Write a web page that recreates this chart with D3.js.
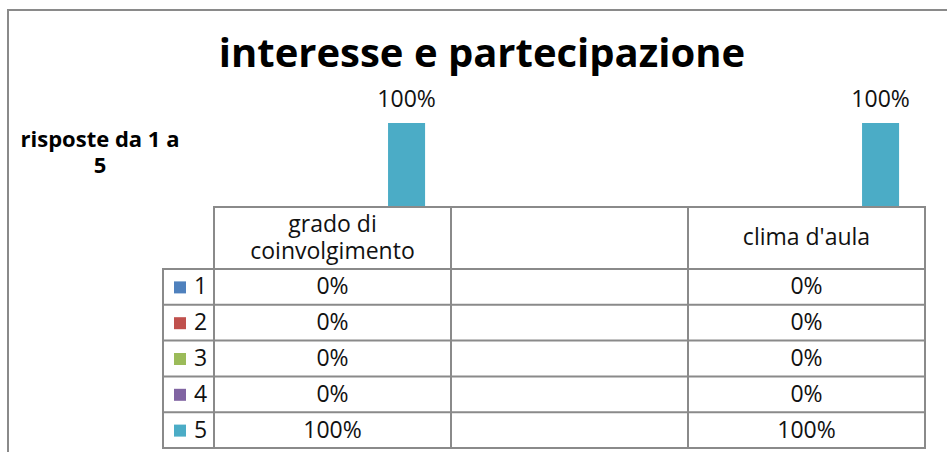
<!DOCTYPE html>
<html>
<head>
<meta charset="utf-8">
<script src="https://cdn.jsdelivr.net/npm/d3@7"></script>
<style>
  body { margin: 0; background: #fff; }
  text { font-family: "Open Sans", "Noto Sans", sans-serif; fill: #111; }
</style>
</head>
<body>
<script>
// Chart data
var categories = ["grado di coinvolgimento", "", "clima d'aula"];
var seriesNames = ["1", "2", "3", "4", "5"];
var values1 = [0, null, 0];
var values2 = [0, null, 0];
var values3 = [0, null, 0];
var values4 = [0, null, 0];
var values5 = [1, null, 1];
var seriesColors = ["#4F81BD", "#C0504D", "#9BBB59", "#8064A2", "#4BACC6"];

var allValues = [values1, values2, values3, values4, values5];

// SVG area
var svgWidth = 947;
var svgHeight = 452;

var svg = d3.select("body")
  .append("svg")
  .attr("width", svgWidth)
  .attr("height", svgHeight);

// chart border (bottom is cut off like in the picture)
svg.append("rect")
  .attr("x", 8)
  .attr("y", 10)
  .attr("width", 960)
  .attr("height", 480)
  .attr("fill", "none")
  .attr("stroke", "#8a8a8a")
  .attr("stroke-width", 2);

// plot / table geometry
var plotLeft = 214, plotRight = 925;
var plotTop = 123, plotBottom = 207;
var headerBottom = 269;
var rowHeight = 35.8;
var rowHeaderLeft = 163;
var fontSize = 23;

var xScale = d3.scaleBand()
  .domain(d3.range(categories.length))
  .range([plotLeft, plotRight]);

var xSeries = d3.scaleBand()
  .domain(seriesNames)
  .range([0, xScale.bandwidth()])
  .paddingOuter(0.7);

var yScale = d3.scaleLinear()
  .domain([0, 1])
  .range([plotBottom, plotTop]);

var color = d3.scaleOrdinal().domain(seriesNames).range(seriesColors);
var pct = d3.format(".0%");

// flatten for bars
var barData = [];
seriesNames.forEach(function(s, si) {
  categories.forEach(function(c, ci) {
    var v = allValues[si][ci];
    if (v !== null) barData.push({ series: s, cat: ci, value: v });
  });
});

// title
svg.append("text")
  .attr("x", 482)
  .attr("y", 67)
  .attr("text-anchor", "middle")
  .style("font-size", "40px")
  .style("font-weight", "bold")
  .style("fill", "#000")
  .text("interesse e partecipazione");

// axis title
var yTitle = svg.append("text")
  .attr("text-anchor", "middle")
  .style("font-size", "22px")
  .style("font-weight", "bold")
  .style("fill", "#000");
yTitle.append("tspan").attr("x", 100).attr("y", 147).text("risposte da 1 a");
yTitle.append("tspan").attr("x", 100).attr("y", 173).text("5");

// bars
var barGroup = svg.append("g");
barGroup.selectAll("rect")
  .data(barData)
  .enter()
  .append("rect")
  .attr("x", d => xScale(d.cat) + xSeries(d.series))
  .attr("y", d => yScale(d.value))
  .attr("width", xSeries.bandwidth())
  .attr("height", d => plotBottom - yScale(d.value))
  .attr("fill", d => color(d.series));

// data labels (only non-zero bars carry a label)
barGroup.selectAll("text")
  .data(barData.filter(d => d.value > 0))
  .enter()
  .append("text")
  .attr("x", d => xScale(d.cat) + xSeries(d.series) + xSeries.bandwidth() / 2)
  .attr("y", d => yScale(d.value) - 16)
  .attr("text-anchor", "middle")
  .style("font-size", fontSize + "px")
  .text(d => pct(d.value));

// data table
var table = svg.append("g");
var lineColor = "#8a8a8a";
var tableBottom = headerBottom + rowHeight * seriesNames.length;

function hLine(x1, x2, y) {
  table.append("line")
    .attr("x1", x1).attr("x2", x2).attr("y1", y).attr("y2", y)
    .attr("stroke", lineColor).attr("stroke-width", 2);
}
function vLine(x, y1, y2) {
  table.append("line")
    .attr("x1", x).attr("x2", x).attr("y1", y1).attr("y2", y2)
    .attr("stroke", lineColor).attr("stroke-width", 2);
}

hLine(plotLeft - 1, plotRight + 1, plotBottom);
d3.range(seriesNames.length + 1).forEach(function(i) {
  hLine(rowHeaderLeft - 1, plotRight + 1, headerBottom + i * rowHeight);
});
vLine(rowHeaderLeft, headerBottom, tableBottom);
d3.range(categories.length).forEach(function(i) {
  vLine(xScale(i), plotBottom, tableBottom);
});
vLine(plotRight, plotBottom, tableBottom);

// header labels with wrapping
function wrapLines(str, width, size) {
  var probe = svg.append("text").style("font-size", size + "px");
  var words = str.split(" ").filter(w => w.length);
  var lines = [], line = [];
  words.forEach(function(w) {
    line.push(w);
    probe.text(line.join(" "));
    if (probe.node().getComputedTextLength() > width && line.length > 1) {
      line.pop();
      lines.push(line.join(" "));
      line = [w];
    }
  });
  if (line.length) lines.push(line.join(" "));
  probe.remove();
  return lines;
}

var headMid = (plotBottom + headerBottom) / 2 + 7;
categories.forEach(function(c, ci) {
  var lines = wrapLines(c, xScale.bandwidth() - 20, fontSize);
  var t = table.append("text")
    .attr("text-anchor", "middle")
    .style("font-size", fontSize + "px");
  lines.forEach(function(l, li) {
    t.append("tspan")
      .attr("x", xScale(ci) + xScale.bandwidth() / 2)
      .attr("y", headMid + (li - (lines.length - 1) / 2) * 27)
      .text(l);
  });
});

// rows: legend key + values
seriesNames.forEach(function(s, si) {
  var rowMid = headerBottom + si * rowHeight + rowHeight / 2;
  table.append("rect")
    .attr("x", 174)
    .attr("y", rowMid - 5.5)
    .attr("width", 12)
    .attr("height", 12)
    .attr("fill", color(s));
  table.append("text")
    .attr("x", 194)
    .attr("y", rowMid + 7.5)
    .style("font-size", fontSize + "px")
    .text(s);
  categories.forEach(function(c, ci) {
    var v = allValues[si][ci];
    if (v === null) return;
    table.append("text")
      .attr("x", xScale(ci) + xScale.bandwidth() / 2)
      .attr("y", rowMid + 7.5)
      .attr("text-anchor", "middle")
      .style("font-size", fontSize + "px")
      .text(pct(v));
  });
});
</script>
</body>
</html>
